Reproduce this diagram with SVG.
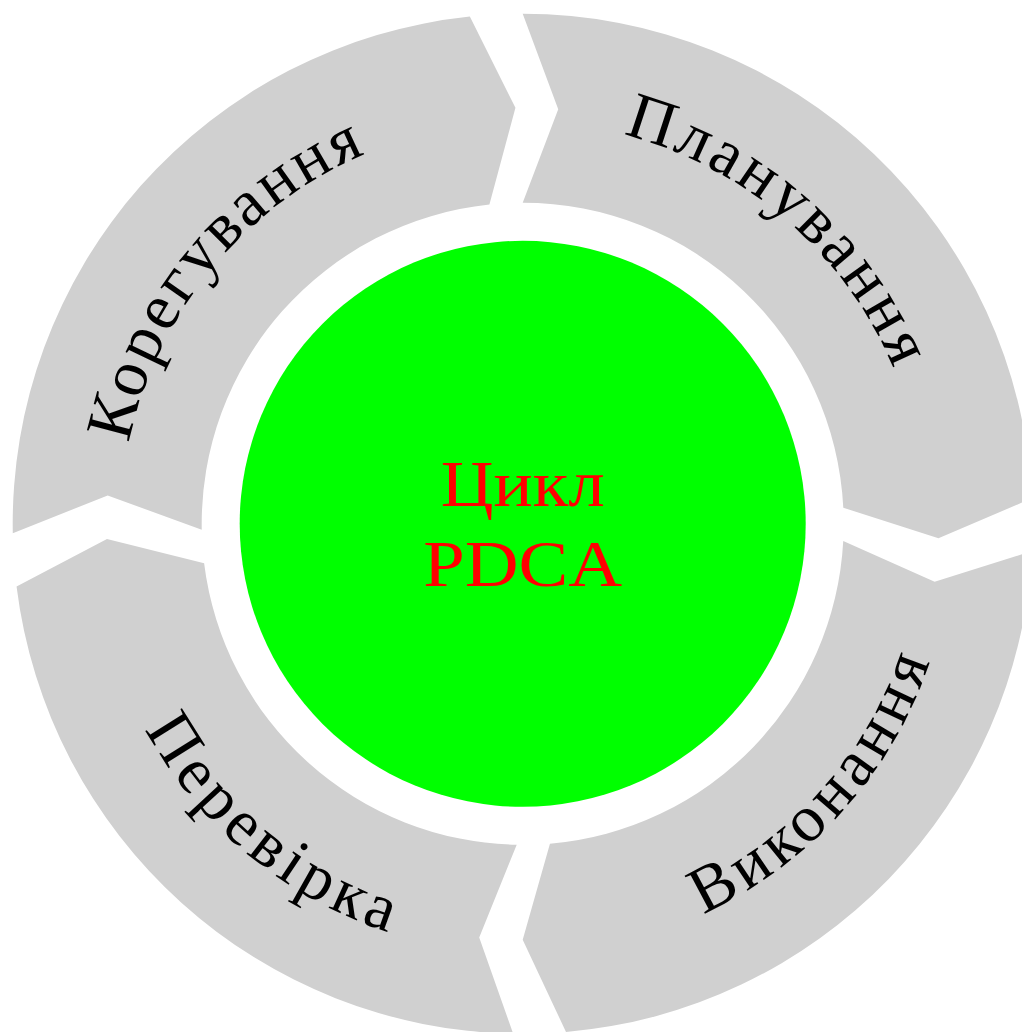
<svg xmlns="http://www.w3.org/2000/svg" width="1022" height="1032" viewBox="0 0 1022 1032">
<style>
.seg{fill:#d0d0d0;stroke:none}
.lbl{font-family:"Liberation Serif","DejaVu Serif",serif;font-size:66px;fill:#000}
.ctr{font-family:"Liberation Serif","DejaVu Serif",serif;font-size:66px;fill:#ff0000;text-anchor:middle}
</style>
<defs>
<path id="pPlan" d="M392.5,143.5 A402,402 0 0 1 917.2,601.2"/>
<path id="pAct" d="M146.1,664.6 A402,402 0 0 1 589.0,127.3"/>
<path id="pCheck" d="M98.6,452.8 A430,430 0 0 0 673.3,926.6"/>
<path id="pDo" d="M436.2,945.0 A430,430 0 0 0 930.7,388.1"/>
</defs>
<rect width="1022" height="1032" fill="#fff"/>
<g id="plan">
<path class="seg" d="M522.7,13.8 L558.23,109.32 L522.7,202.8 A321,321 0 0 1 843.30,507.73 L938.45,538.32 L1032.06,498.26 A510,510 0 0 0 522.7,13.8 Z"/>
<text class="lbl" letter-spacing="3.5"><textPath href="#pPlan" startOffset="50%" text-anchor="middle">Планування</textPath></text>
</g>
<g id="do">
<path class="seg" d="M1031.97,551.12 L934.65,581.7 L843.24,540.99 A321,321 0 0 1 549.95,843.64 L522.7,939.8 L566.0,1031.96 A510,510 0 0 0 1031.97,551.12 Z"/>
<text class="lbl" letter-spacing="5.3"><textPath href="#pDo" startOffset="50%" text-anchor="middle">Виконання</textPath></text>
</g>
<g id="check">
<path class="seg" d="M513.18,1033.71 L479.22,937.52 L516.71,844.74 A321,321 0 0 1 204.13,563.2 L106.98,539.04 L16.56,586.4 A510,510 0 0 0 513.18,1033.71 Z"/>
<text class="lbl" letter-spacing="5.3"><textPath href="#pCheck" startOffset="50%" text-anchor="middle">Перевірка</textPath></text>
</g>
<g id="act">
<path class="seg" d="M12.79,533.15 L107.66,495.5 L201.75,529.68 A321,321 0 0 1 489.42,204.53 L515.44,107.86 L469.83,16.55 A510,510 0 0 0 12.79,533.15 Z"/>
<text class="lbl" letter-spacing="3.2"><textPath href="#pAct" startOffset="50%" text-anchor="middle">Корегування</textPath></text>
</g>
<g id="center">
<circle cx="522.7" cy="523.8" r="283" fill="#00ff00"/>
<text class="ctr" x="522.7" y="506" textLength="164" lengthAdjust="spacingAndGlyphs">Цикл</text>
<text class="ctr" x="522.7" y="586" textLength="199" lengthAdjust="spacingAndGlyphs">PDCA</text>
</g>
<g id="connectors"/>
</svg>
